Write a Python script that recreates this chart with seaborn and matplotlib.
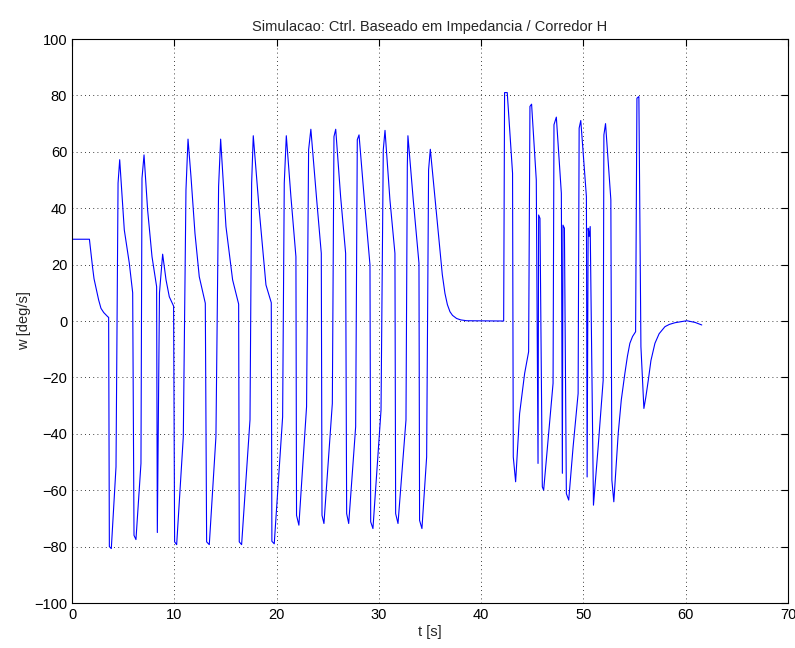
import matplotlib
matplotlib.use("Agg")
import matplotlib.pyplot as plt
import seaborn as sns
import pandas as pd

# ---------------------------------
# Data
# ---------------------------------
t_s = [
    0.0, 0.02, 1.7, 1.85, 2.0, 2.15, 2.35, 2.6, 2.83, 3.1, 3.5, 3.58,
    3.65, 3.84, 4.3, 4.5, 4.66, 5.11, 5.6, 5.93,
    6.06, 6.25, 6.74, 6.84, 7.04, 7.39, 7.82, 8.27,
    8.34, 8.55, 8.86, 9.19, 9.51, 9.93,
    10.03, 10.23, 10.88, 11.14, 11.34, 11.63, 12.02, 12.44, 13.03,
    13.16, 13.42, 14.07, 14.33, 14.53, 15.05, 15.7, 16.29,
    16.35, 16.58, 17.4, 17.56, 17.72, 18.3, 18.96, 19.48,
    19.54, 19.77, 20.59, 20.75, 20.95, 21.4, 21.89,
    21.95, 22.18, 22.93, 23.13, 23.35, 23.92, 24.37,
    24.44, 24.63, 25.45, 25.61, 25.78, 26.26, 26.75,
    26.85, 27.05, 27.73, 27.89, 28.06, 28.58, 29.13,
    29.2, 29.42, 30.21, 30.43, 30.6, 31.08, 31.57,
    31.64, 31.87, 32.65, 32.78, 32.84, 33.36, 33.92,
    33.98, 34.21, 34.67, 34.86, 35.03, 35.48, 35.7, 35.97, 36.2, 36.46,
    36.7, 36.95, 37.2, 37.6, 38.0, 38.58,
    42.2, 42.29, 42.55, 43.07,
    43.14, 43.37, 43.76, 44.25, 44.64, 44.77, 44.93, 45.39,
    45.56, 45.62, 45.75, 45.98, 46.11, 46.54, 47.03, 47.12, 47.35, 47.84,
    47.94, 48.0, 48.14, 48.33, 48.56, 48.99, 49.48, 49.58, 49.74, 50.29,
    50.36, 50.46, 50.56, 50.66, 50.98, 51.44, 51.93, 52.0, 52.16, 52.68,
    52.78, 52.97, 53.4, 53.7, 54.05, 54.3, 54.54, 54.8, 55.1, 55.23, 55.42,
    55.62, 55.91, 56.1, 56.34, 56.6, 56.99, 57.4, 57.97, 58.4, 58.95,
    60.1, 60.92, 61.57,
]
w_deg = [
    0.0, 29.0, 29.0, 24.0, 19.3, 15.0, 11.6, 7.5, 4.5, 3.0, 1.5, 1.3,
    -80.0, -80.7, -51.7, 48.9, 57.2, 32.3, 20.5, 10.0,
    -76.0, -77.5, -50.5, 50.6, 58.9, 39.4, 22.8, 12.2,
    -75.0, 10.0, 23.7, 14.6, 8.6, 5.3,
    -78.3, -79.3, -41.0, 46.5, 64.5, 51.2, 31.1, 15.7, 6.3,
    -78.3, -79.3, -41.0, 47.7, 64.5, 33.5, 14.6, 6.0,
    -78.3, -79.3, -35.0, 48.9, 65.7, 39.4, 12.8, 6.5,
    -78.1, -79.0, -34.0, 48.9, 65.7, 44.1, 22.8,
    -68.9, -72.4, -30.4, 60.7, 68.0, 43.0, 24.0,
    -68.9, -71.8, -29.2, 65.4, 68.0, 44.1, 24.0,
    -68.3, -71.8, -37.5, 64.3, 66.0, 43.0, 19.9,
    -71.2, -73.6, -31.6, 60.7, 67.6, 43.0, 24.0,
    -68.3, -71.8, -35.1, 54.8, 65.7, 43.0, 20.5,
    -70.7, -73.6, -48.2, 53.6, 60.9, 44.1, 35.5, 25.2, 16.5, 9.8,
    5.8, 3.3, 2.0, 0.9, 0.4, 0.1,
    0.0, 81.0, 81.0, 52.4,
    -48.2, -57.0, -32.8, -18.6, -10.9, 76.1, 76.9, 50.0,
    -50.5, 37.6, 36.4, -58.8, -60.0, -42.2, -22.1, 69.6, 72.3, 45.3,
    -54.0, 34.0, 32.9, -61.2, -63.5, -44.6, -25.7, 68.4, 71.1, 44.1,
    -55.3, 32.9, 30.0, 33.5, -65.3, -44.6, -21.0, 66.0, 70.0, 43.0,
    -56.4, -64.1, -39.9, -28.0, -18.6, -12.5, -7.9, -5.5, -3.8, 79.0, 79.6,
    -9.1, -31.0, -27.0, -21.0, -14.0, -7.9, -4.5, -2.0, -1.2, -0.6,
    0.1, -0.5, -1.4,
]

x_ticks = list(range(0, 71, 10))
y_ticks = list(range(-100, 101, 20))

df = pd.DataFrame({"t": t_s, "w": w_deg})

sns.set_style("white")
plt.rcParams["font.family"] = ["Liberation Sans", "DejaVu Sans"]

fig = plt.figure(figsize=(7.95, 6.48), dpi=100)
ax = fig.add_axes([0.0906, 0.0694, 0.9006, 0.8704])

sns.lineplot(data=df, x="t", y="w", sort=False, estimator=None,
             color="blue", linewidth=0.8, ax=ax)

ax.set_xlim(0, 70)
ax.set_ylim(-100, 100)
ax.set_xticks(x_ticks)
ax.set_yticks(y_ticks)
ax.set_xticklabels([str(v) for v in x_ticks])
ax.set_yticklabels([str(v).replace("-", "\u2212") for v in y_ticks])
ax.grid(True, linestyle=(0, (1, 4)), color="black", linewidth=0.6)
ax.tick_params(direction="in", length=5, labelsize=10.5, top=True, right=True,
               colors="black")
for sp in ax.spines.values():
    sp.set_color("black")
    sp.set_linewidth(0.8)

ax.set_title("Simulacao: Ctrl. Baseado em Impedancia / Corredor H", fontsize=10.5, pad=6)
ax.set_xlabel("t [s]", fontsize=10.5, labelpad=2)
ax.set_ylabel("w [deg/s]", fontsize=10.5, labelpad=2)

fig.savefig("out.png", dpi=100)
